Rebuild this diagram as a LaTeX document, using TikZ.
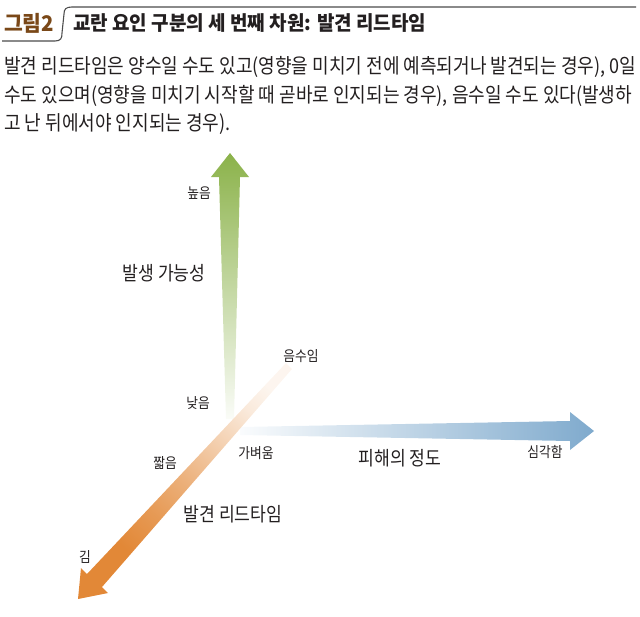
\documentclass[tikz,border=0pt]{standalone}
\usepackage{fontspec}
\newfontfamily\kr[FakeStretch=0.88]{Noto Sans CJK KR}
\newfontfamily\krtitle[FakeStretch=0.95]{Noto Sans CJK KR}
\definecolor{lgreen}{RGB}{139,178,74}
\definecolor{lblue}{RGB}{127,170,205}
\definecolor{lorange}{RGB}{226,136,55}
\definecolor{figbrown}{RGB}{122,72,24}
\definecolor{txt}{RGB}{35,31,32}
\pgfdeclarehorizontalshading{leadshade}{100bp}{color(0bp)=(lorange); color(30bp)=(lorange); color(40bp)=(lorange!85); color(50bp)=(lorange!66); color(62bp)=(lorange!38); color(71bp)=(lorange!18); color(78bp)=(lorange!8); color(100bp)=(lorange!8)}

\begin{document}
\begin{tikzpicture}[x=1pt,y=-1pt,
    lbl/.style={font=\kr\fontsize{14.5}{14.5}\selectfont, text=txt, inner sep=0pt},
    axislbl/.style={font=\kr\fontsize{19.5}{19.5}\selectfont, text=txt, inner sep=0pt},
    bodytxt/.style={font=\kr\fontsize{20.5}{20.5}\selectfont, text=txt, inner sep=0pt, anchor=west}]

    \useasboundingbox (0,0) rectangle (640,616);

    %draw header
    \draw[line width=1.1pt, black!70] (2,41) -- (55,41) .. controls (61,41) and (62,38) .. (62,33) -- (64,14) .. controls (64,9) and (66,7) .. (72,7) -- (636,7);
    \node[anchor=west, inner sep=0pt, font=\krtitle\bfseries\fontsize{21.5}{21.5}\selectfont, text=figbrown] (fig) at (4,23) {그림2};
    \node[anchor=west, inner sep=0pt, font=\krtitle\bfseries\fontsize{20}{20}\selectfont, text=txt] (title) at (73,23) {교란 요인 구분의 세 번째 차원: 발견 리드타임};

    %draw body text
    \node[bodytxt] (line1) at (4,67) {발견 리드타임은 양수일 수도 있고(영향을 미치기 전에 예측되거나 발견되는 경우), 0일};
    \node[bodytxt] (line2) at (4,96) {수도 있으며(영향을 미치기 시작할 때 곧바로 인지되는 경우), 음수일 수도 있다(발생하};
    \node[bodytxt] (line3) at (4,124) {고 난 뒤에서야 인지되는 경우).};

    %draw arrows
    \shade[top color=lgreen, bottom color=lgreen!4] (226,419) -- (219,177) -- (211,177) -- (230,153) -- (249,177) -- (240,177) -- (234,419) -- cycle;
    \shade[left color=lblue!4, right color=lblue] (240,427) -- (570,421) -- (570,412) -- (594,431) -- (570,450) -- (570,441) -- (240,435) -- cycle;
    \shade[shading=leadshade, shading angle=48] (286,363) -- (292,369) -- (102,587) -- (108,593) -- (78,599) -- (81,568) -- (87,574) -- cycle;

    %draw axis labels
    \node[lbl] (high) at (199,193) {높음};
    \node[lbl] (low) at (198,403) {낮음};
    \node[axislbl] (likely) at (164,273) {발생 가능성};

    \node[lbl] (light) at (256,453) {가벼움};
    \node[lbl] (severe) at (545,452) {심각함};
    \node[axislbl] (damage) at (400,458) {피해의 정도};

    \node[lbl] (negative) at (301,356) {음수임};
    \node[lbl] (short) at (165,463) {짧음};
    \node[lbl] (long) at (85,557) {김};
    \node[axislbl] (leadtime) at (233,514) {발견 리드타임};

\end{tikzpicture}
\end{document}
